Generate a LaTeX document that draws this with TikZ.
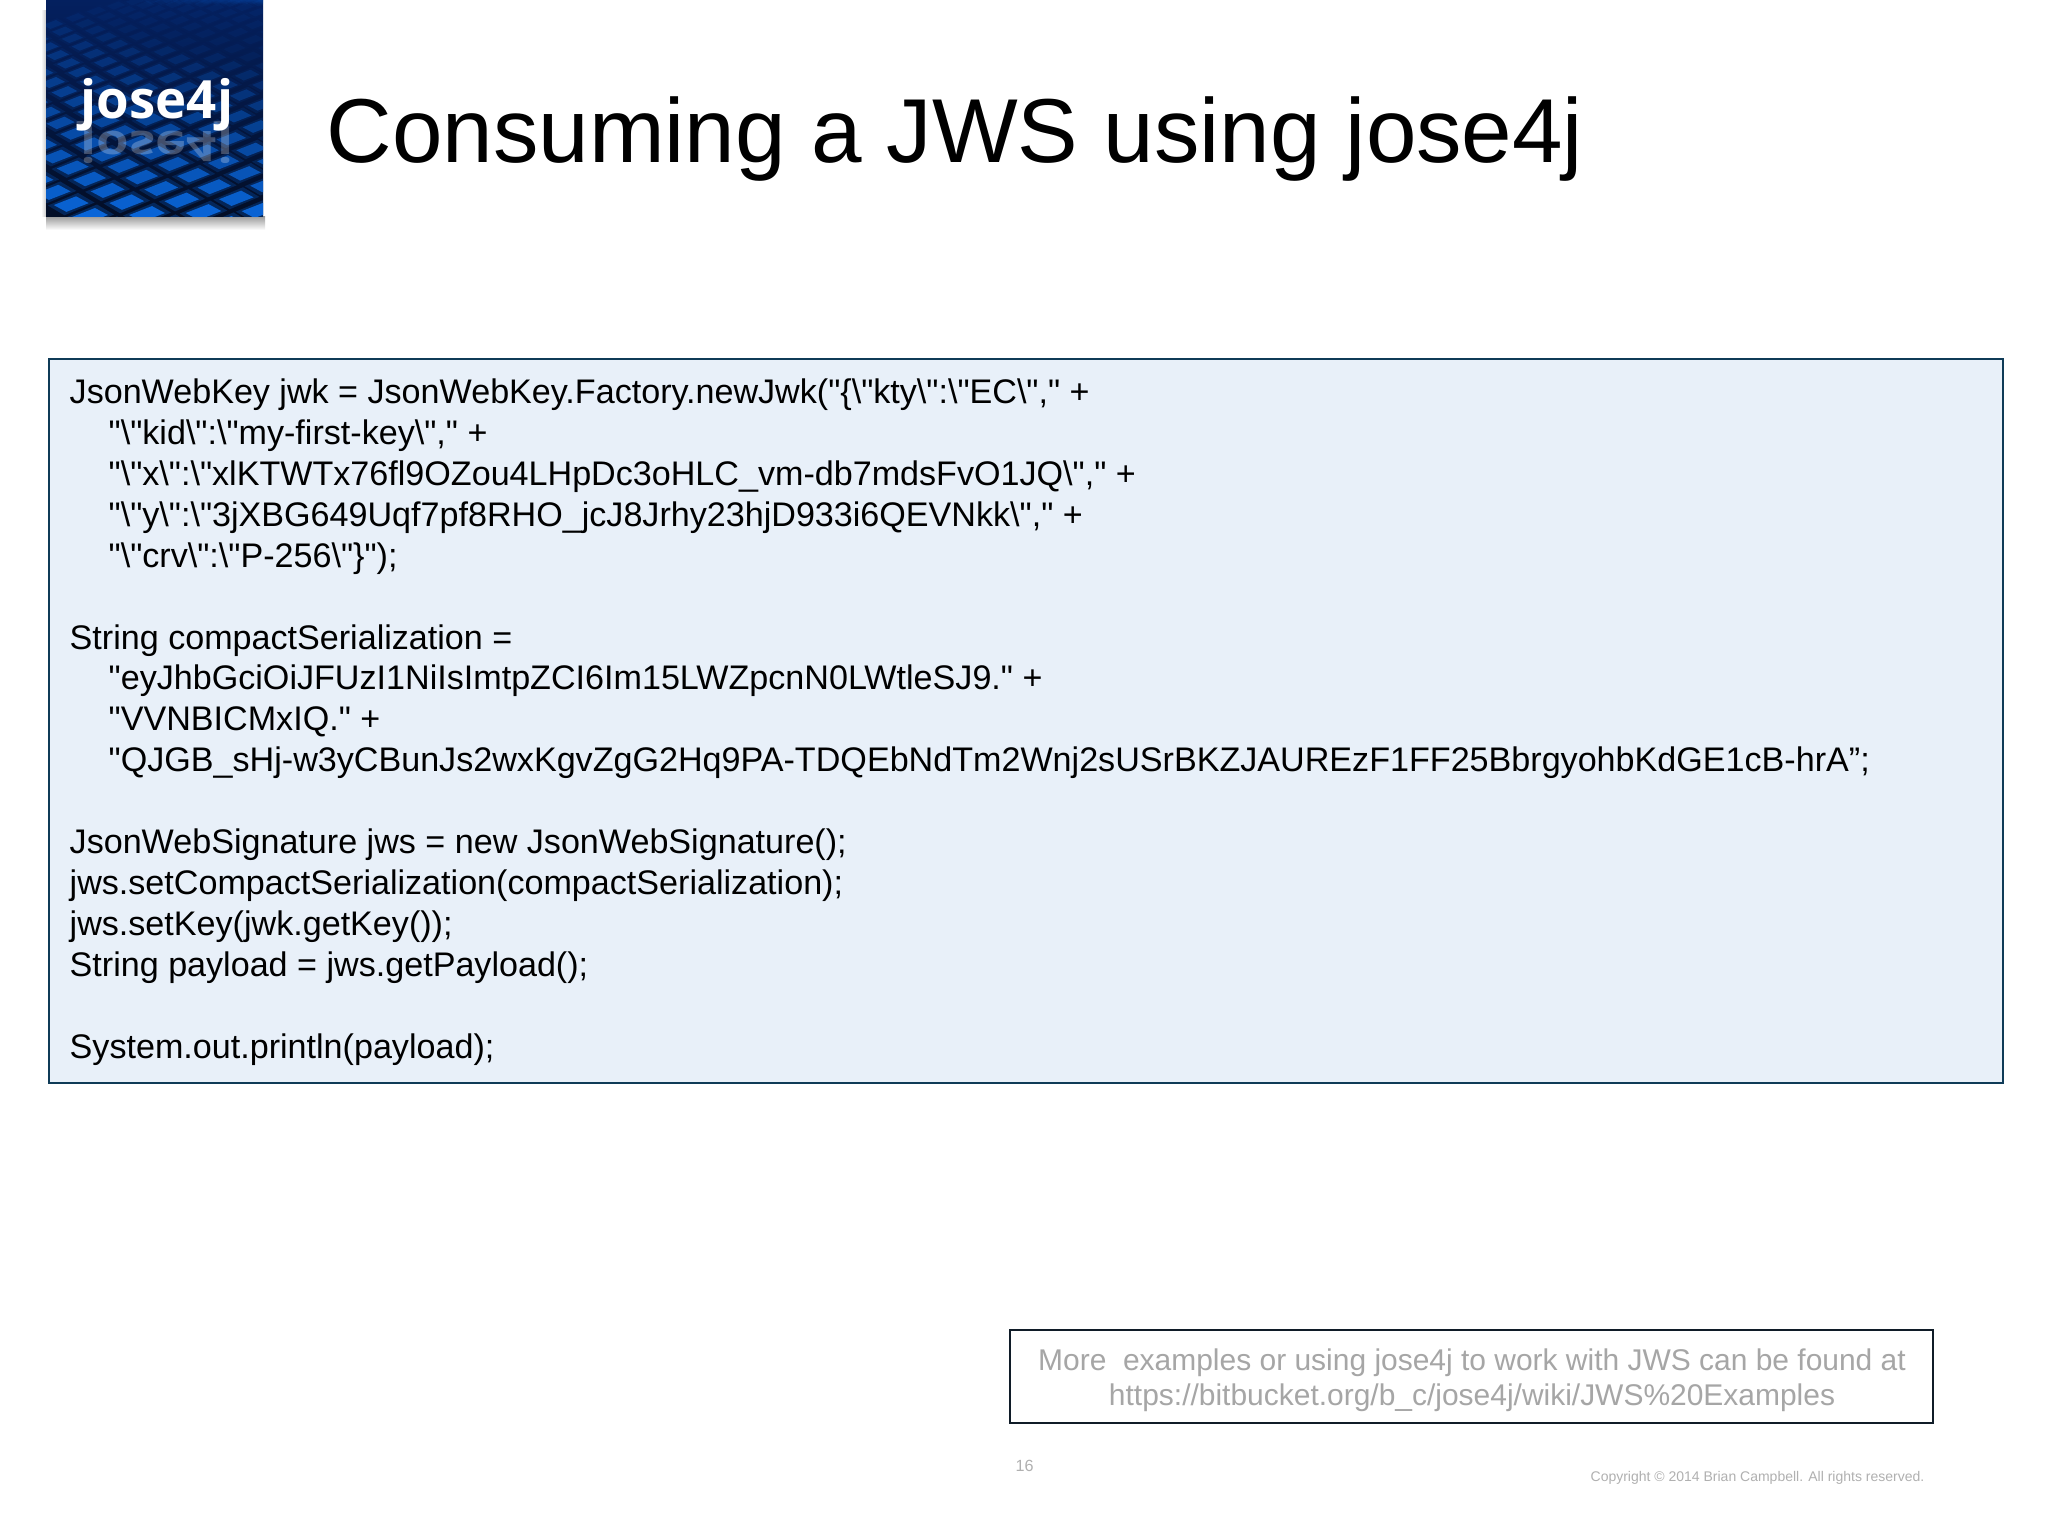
\documentclass[tikz,border=0pt]{standalone}
\usepackage{fontspec}
\setmainfont{Liberation Sans}
\newfontfamily\plainfont{Liberation Sans}
\newfontfamily\logofont{Open Sans}
\definecolor{boxfill}{HTML}{E8F0F9}
\definecolor{boxline}{HTML}{0F3B57}
\definecolor{noteline}{HTML}{101C28}
\definecolor{notegray}{HTML}{A6A6A6}
\definecolor{footgray}{HTML}{B0B0B0}
\definecolor{tileblue}{HTML}{0A6CE6}
\definecolor{logonavy}{HTML}{04205F}
\definecolor{logodark}{HTML}{030E26}
\newcommand{\bsl}{\textbackslash}
\tikzset{
    codeline/.style={anchor=base west,inner sep=0pt,font=\plainfont\fontsize{9.7pt}{12pt}\selectfont},
    noteline/.style={anchor=base,inner sep=0pt,text=notegray,font=\plainfont\fontsize{8.52pt}{11pt}\selectfont},
}
\begin{document}
\begin{tikzpicture}[x=0.01cm,y=-0.01cm]
    \useasboundingbox (0,0) rectangle (2048,1536);
    \fill[white] (0,0) rectangle (2048,1536);
    % logo
    \shade[top color=gray!80,bottom color=white] (46,216) rectangle (265,230);
    \shade[left color=white,right color=gray!40] (41,10) rectangle (46,216);
    \begin{scope}
        \clip (46,0) rectangle (263,216);
        \shade[top color=logonavy,bottom color=logodark] (46,0) rectangle (263,216);
        \foreach \i in {0,...,22} {
            \foreach \j in {-14,...,3} {
                \pgfmathsetmacro{\fy}{max(1,216-10*\i+8.6*\j)}
                \pgfmathsetmacro{\cy}{216*pow(\fy/216,1.4)}
                \pgfmathsetmacro{\ss}{0.5+0.5*\cy/216}
                \pgfmathsetmacro{\cx}{150+(36*\i+21*\j-60)*\ss}
                \pgfmathsetmacro{\lit}{max(0.06,min(1,0.05+0.85*\cy/216-0.3*(\cx-46)/217*(1-\cy/216)))}
                \begin{scope}[shift={(\cx,\cy)},scale=\ss]
                    \fill[tileblue,opacity=0.3*\lit] (-24,1.5) -- (7,-11.5) -- (24,-1.5) -- (-7,11.5) -- cycle;
                    \fill[tileblue,opacity=\lit] (-18,1) -- (5,-8) -- (18,-1) -- (-5,8) -- cycle;
                \end{scope}
            }
        }
        \node[inner sep=0pt,anchor=base,text=white,opacity=0.25,yscale=-0.8,font=\logofont\bfseries\fontsize{15pt}{15pt}\selectfont] (logomirror) at (157,131) {jose4j};
    \end{scope}
    \node[inner sep=0pt,anchor=base,text=white,font=\logofont\bfseries\fontsize{15pt}{15pt}\selectfont] (logotext) at (157,118) {jose4j};
    % title
    \node[anchor=base west,inner sep=0pt,font=\fontsize{25.82pt}{30pt}\selectfont] (title) at (326,162) {Consuming a JWS using jose4j};
    % code box
    \path[fill=boxfill,draw=boxline,line width=0.8pt] (49,359) rectangle (2003,1083);
    \node[codeline] (l1) at (69,403) {JsonWebKey jwk = JsonWebKey.Factory.newJwk("\{\bsl"kty\bsl":\bsl"EC\bsl"," +};
    \node[codeline] (l2) at (108,444) {"\bsl"kid\bsl":\bsl"my-first-key\bsl"," +};
    \node[codeline] (l3) at (108,485) {"\bsl"x\bsl":\bsl"xlKTWTx76fl9OZou4LHpDc3oHLC\_vm-db7mdsFvO1JQ\bsl"," +};
    \node[codeline] (l4) at (108,526) {"\bsl"y\bsl":\bsl"3jXBG649Uqf7pf8RHO\_jcJ8Jrhy23hjD933i6QEVNkk\bsl"," +};
    \node[codeline] (l5) at (108,567) {"\bsl"crv\bsl":\bsl"P-256\bsl"\}");};
    \node[codeline] (l6) at (69,649) {String compactSerialization =};
    \node[codeline] (l7) at (108,689) {"eyJhbGciOiJFUzI1NiIsImtpZCI6Im15LWZpcnN0LWtleSJ9." +};
    \node[codeline] (l8) at (108,730) {"VVNBICMxIQ." +};
    \node[codeline] (l9) at (108,771) {"QJGB\_sHj-w3yCBunJs2wxKgvZgG2Hq9PA-TDQEbNdTm2Wnj2sUSrBKZJAUREzF1FF25BbrgyohbKdGE1cB-hrA”;};
    \node[codeline] (l10) at (69,853) {JsonWebSignature jws = new JsonWebSignature();};
    \node[codeline] (l11) at (69,894) {jws.setCompactSerialization(compactSerialization);};
    \node[codeline] (l12) at (69,935) {jws.setKey(jwk.getKey());};
    \node[codeline] (l13) at (69,976) {String payload = jws.getPayload();};
    \node[codeline] (l14) at (69,1058) {System.out.println(payload);};
    % note
    \path[fill=white,draw=noteline,line width=0.7pt] (1010,1330) rectangle (1933,1423);
    \node[noteline] (n1) at (1472,1370) {More\ \ examples or using jose4j to work with JWS can be found at};
    \node[noteline] (n2) at (1472,1405) {https://bitbucket.org/b\_c/jose4j/wiki/JWS\%20Examples};
    % footer
    \node[anchor=base west,inner sep=0pt,text=footgray,font=\fontsize{4.6pt}{6pt}\selectfont] (pagenum) at (1015,1471) {16};
    \node[anchor=base east,inner sep=0pt,text=footgray,font=\fontsize{3.98pt}{6pt}\selectfont] (copyright) at (1925,1481) {Copyright © 2014 Brian Campbell. All rights reserved.};
\end{tikzpicture}
\end{document}
